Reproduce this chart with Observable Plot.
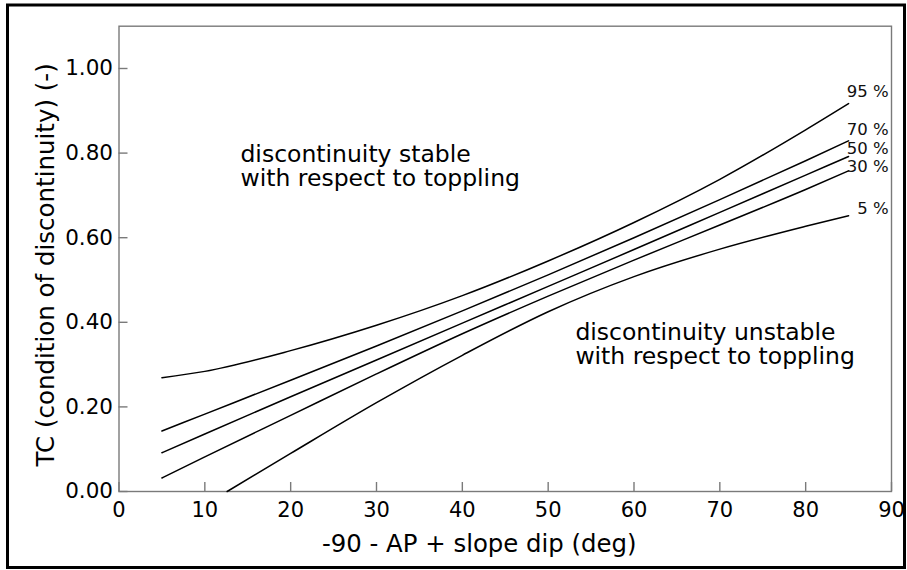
<!DOCTYPE html>
<html>
<head>
<meta charset="utf-8">
<script src="https://cdn.jsdelivr.net/npm/d3@7"></script>
<script src="https://cdn.jsdelivr.net/npm/@observablehq/plot@0.6"></script>
<style>
  html, body { margin: 0; padding: 0; background: #fff; }
  #chart svg { display: block; }
</style>
</head>
<body>
<div id="chart"></div>
<script>
// ---- data ----
const xs = [5, 10, 20, 30, 40, 50, 60, 70, 80, 85];
const xs5 = [12.6, 20, 30, 40, 50, 60, 70, 80, 85];
const tc95 = [0.269, 0.284, 0.333, 0.393, 0.463, 0.545, 0.636, 0.738, 0.855, 0.917];
const tc70 = [0.143, 0.183, 0.263, 0.344, 0.427, 0.512, 0.600, 0.690, 0.782, 0.829];
const tc50 = [0.0915, 0.136, 0.224, 0.311, 0.398, 0.485, 0.572, 0.660, 0.748, 0.792];
const tc30 = [0.032, 0.082, 0.180, 0.278, 0.373, 0.462, 0.547, 0.630, 0.714, 0.758];
const tc05 = [0.000, 0.090, 0.210, 0.322, 0.425, 0.508, 0.573, 0.627, 0.652];

const seriesNames = ["95 %", "70 %", "50 %", "30 %", "5 %"];
const labelY = [0.932, 0.842, 0.798, 0.755, 0.6565];

const xTicks = [0, 10, 20, 30, 40, 50, 60, 70, 80, 90];
const yTicks = [0, 0.2, 0.4, 0.6, 0.8, 1.0];

const xTitle = "-90 - AP + slope dip (deg)";
const yTitle = "TC (condition of discontinuity) (-)";

const notes = [
  {text: "discontinuity stable\nwith respect to toppling", x: 14.15, y: 0.7234},
  {text: "discontinuity unstable\nwith respect to toppling", x: 53.17, y: 0.3026}
];

// ---- build table ----
const curveData = [];
const seriesVals = [tc95, tc70, tc50, tc30, tc05];
seriesVals.forEach((vals, i) => {
  const xv = i === 4 ? xs5 : xs;
  vals.forEach((v, j) => curveData.push({series: seriesNames[i], x: xv[j], tc: v}));
});
const labels = seriesNames.map((s, i) => {
  const xv = i === 4 ? xs5 : xs;
  return {series: s, x: xv[xv.length - 1], y: labelY[i]};
});

const font = "'DejaVu Sans', 'Liberation Sans', Arial, sans-serif";
const gray = "#7a7a7a";

const chart = Plot.plot({
  width: 907,
  height: 570,
  marginLeft: 118.5,
  marginRight: 16,
  marginTop: 25.7,
  marginBottom: 79,
  style: {fontFamily: font, background: "#fff", color: "#000"},
  x: {domain: [0, 90]},
  y: {domain: [0, 1.1]},
  marks: [
    Plot.frame({stroke: gray, strokeWidth: 1.4}),
    // inward ticks
    Plot.axisX(xTicks, {tickSize: 9, dy: -9, fill: "none", stroke: gray, strokeWidth: 1.4, label: null}),
    Plot.axisY(yTicks, {tickSize: 9, dx: 9, fill: "none", stroke: gray, strokeWidth: 1.4, label: null}),
    // tick labels
    Plot.axisX(xTicks, {tickSize: 0, tickPadding: 11, fontSize: 21, fill: "#000", label: null, tickFormat: d => String(d)}),
    Plot.axisY(yTicks, {tickSize: 0, tickPadding: 6, fontSize: 21.5, fill: "#000", label: null, tickFormat: d3.format(".2f")}),
    // curves
    Plot.line(curveData, {x: "x", y: "tc", z: "series", stroke: "#000", strokeWidth: 1.5, curve: "monotone-x"}),
    // curve labels
    Plot.text(labels, {x: "x", y: "y", text: "series", dx: 40, textAnchor: "end", lineAnchor: "bottom", fontSize: 16.5, fill: "#111"}),
    // region annotations
    Plot.text(notes, {x: "x", y: "y", text: "text", textAnchor: "start", lineAnchor: "bottom", fontSize: 23.5, lineHeight: 1.0, fill: "#000"}),
    // axis titles
    Plot.text([xTitle], {frameAnchor: "bottom", text: d => d, textAnchor: "middle", dx: -26, dy: 60.7, lineAnchor: "bottom", fontSize: 24.4, fill: "#000"}),
    Plot.text([yTitle], {frameAnchor: "left", text: d => d, textAnchor: "middle", dx: -65.5, dy: 6, rotate: -90, lineAnchor: "bottom", fontSize: 24.5, fill: "#000"})
  ]
});

document.getElementById("chart").appendChild(chart);

// outer border of the figure
d3.select(chart).append("rect")
  .attr("x", 7.5).attr("y", 5).attr("width", 897).attr("height", 562.5)
  .attr("fill", "none").attr("stroke", "#000").attr("stroke-width", 3);
</script>
</body>
</html>
